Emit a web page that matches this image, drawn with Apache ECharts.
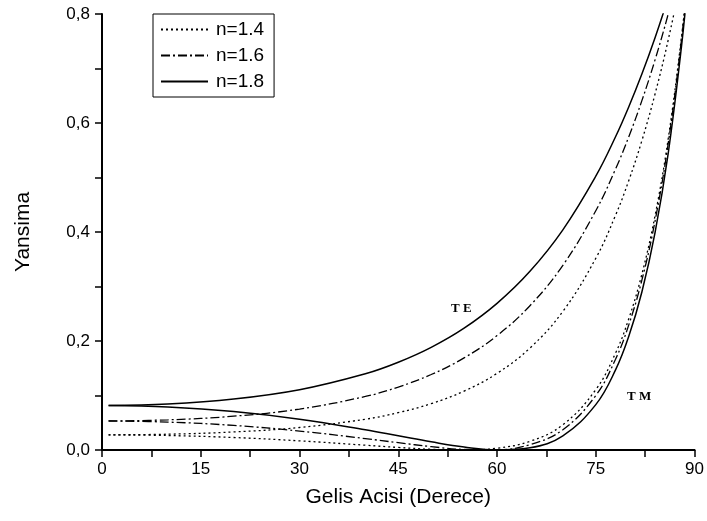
<!DOCTYPE html>
<html>
<head>
<meta charset="utf-8">
<script src="https://cdn.jsdelivr.net/npm/echarts@6/dist/echarts.min.js"></script>
<style>
  html, body { margin: 0; padding: 0; background: #fff; }
  #chart { width: 707px; height: 521px; }
</style>
</head>
<body>
<div id="chart"></div>
<script>
// incidence angles (degrees)
const angles = [1, 10, 20, 30, 40, 45, 50, 55, 60, 65, 70, 75, 78, 80, 82, 84, 86, 88, 89];

// TE reflectance
const te14 = [0.0278, 0.0290, 0.0331, 0.0413, 0.0565, 0.0685, 0.0850, 0.1081, 0.1406, 0.1871, 0.2543, 0.3518, 0.4306, 0.4940, 0.5676, 0.6532, 0.7524, 0.8672, 0.93];
const te16 = [0.0533, 0.0553, 0.0620, 0.0751, 0.0982, 0.1155, 0.1385, 0.1690, 0.2099, 0.2648, 0.3389, 0.4391, 0.5154, 0.5744, 0.6410, 0.7158, 0.7999, 0.8943, 0.95];
const te18 = [0.0817, 0.0844, 0.0935, 0.1106, 0.1399, 0.1611, 0.1884, 0.2236, 0.2691, 0.3279, 0.4040, 0.5024, 0.5747, 0.6294, 0.6898, 0.7564, 0.8300, 0.91, 0.96];

// TM reflectance
const tm14 = [0.0278, 0.0266, 0.0229, 0.0168, 0.0088, 0.0047, 0.0013, 0.0000, 0.0033, 0.0159, 0.0463, 0.1108, 0.1778, 0.2404, 0.3225, 0.4300, 0.5710, 0.7562, 0.8697];
const tm16 = [0.0532, 0.0512, 0.0451, 0.0348, 0.0209, 0.0134, 0.0062, 0.0011, 0.0006, 0.0097, 0.0373, 0.1000, 0.1666, 0.2292, 0.3116, 0.4201, 0.5627, 0.7509, 0.8667];
const tm18 = [0.0816, 0.0789, 0.0705, 0.0564, 0.0370, 0.0260, 0.0150, 0.0055, 0.0002, 0.0040, 0.0261, 0.0833, 0.1469, 0.2081, 0.2900, 0.3990, 0.5444, 0.7388, 0.8597];

const xTicks = [0, 15, 30, 45, 60, 75, 90];
const yTicks = [0, 0.2, 0.4, 0.6, 0.8];
const names = ['n=1.4', 'n=1.6', 'n=1.8'];

const FONT = 'Liberation Sans';
const dotted = [2, 3];
const dashDot = [9, 3, 2, 3];

const pairs = (ys) => angles.map((a, i) => [a, ys[i]]);

function makeSeries(name, ys, type, width, showInLegend) {
  return {
    name: showInLegend ? name : name + ' TM',
    type: 'line',
    data: pairs(ys),
    smooth: 0.4,
    symbol: 'none',
    clip: true,
    itemStyle: { color: '#000' },
    lineStyle: { color: '#000', width: width, type: type },
    emphasis: { disabled: true },
  };
}

const chart = echarts.init(document.getElementById('chart'));

const option = {
  animation: false,
  backgroundColor: '#fff',
  textStyle: { fontFamily: FONT },
  grid: { left: 102, right: 10, top: 14, bottom: 71 },
  legend: {
    data: names,
    orient: 'vertical',
    left: 153,
    top: 14,
    padding: [6, 10, 6, 7],
    itemWidth: 47,
    itemHeight: 18,
    itemGap: 7,
    borderColor: '#000',
    borderWidth: 1,
    selectedMode: false,
    itemStyle: { opacity: 0 },
    textStyle: { fontFamily: FONT, fontSize: 19, color: '#000', padding: [0, 0, 0, 3] },
  },
  xAxis: {
    type: 'value',
    min: 0,
    max: 90,
    interval: 15,
    name: 'Gelis Acisi (Derece)',
    nameLocation: 'middle',
    nameGap: 37,
    nameTextStyle: { fontFamily: FONT, fontSize: 21, color: '#000' },
    axisLine: { show: true, lineStyle: { color: '#000', width: 2 } },
    axisTick: { show: true, length: 7, lineStyle: { color: '#000', width: 1.5 } },
    minorTick: { show: true, splitNumber: 2, length: 7, lineStyle: { color: '#000', width: 1.5 } },
    axisLabel: {
      color: '#000',
      fontSize: 17,
      margin: 11,
      formatter: (v) => (xTicks.includes(v) ? String(v) : ''),
    },
    splitLine: { show: false },
  },
  yAxis: {
    type: 'value',
    min: 0,
    max: 0.8,
    interval: 0.2,
    name: 'Yansima',
    nameLocation: 'middle',
    nameGap: 68,
    nameTextStyle: { fontFamily: FONT, fontSize: 21, color: '#000' },
    axisLine: { show: true, lineStyle: { color: '#000', width: 2 } },
    axisTick: { show: true, length: 7, lineStyle: { color: '#000', width: 1.5 } },
    minorTick: { show: true, splitNumber: 2, length: 7, lineStyle: { color: '#000', width: 1.5 } },
    axisLabel: {
      color: '#000',
      fontSize: 17,
      margin: 12,
      formatter: (v) => {
        const t = yTicks.find((y) => Math.abs(y - v) < 1e-9);
        return t === undefined ? '' : t.toFixed(1).replace('.', ',');
      },
    },
    splitLine: { show: false },
  },
  series: [
    makeSeries(names[0], te14, dotted, 1.3, true),
    makeSeries(names[1], te16, dashDot, 1.3, true),
    makeSeries(names[2], te18, 'solid', 1.5, true),
    makeSeries(names[0], tm14, dotted, 1.3, false),
    makeSeries(names[1], tm16, dashDot, 1.3, false),
    makeSeries(names[2], tm18, 'solid', 1.5, false),
  ],
  graphic: [
    {
      type: 'text',
      left: 451,
      top: 302,
      style: { text: 'T E', font: 'bold 13px "Liberation Serif"', fill: '#000' },
    },
    {
      type: 'text',
      left: 627,
      top: 390,
      style: { text: 'T M', font: 'bold 13px "Liberation Serif"', fill: '#000' },
    },
  ],
};

chart.setOption(option);
</script>
</body>
</html>
